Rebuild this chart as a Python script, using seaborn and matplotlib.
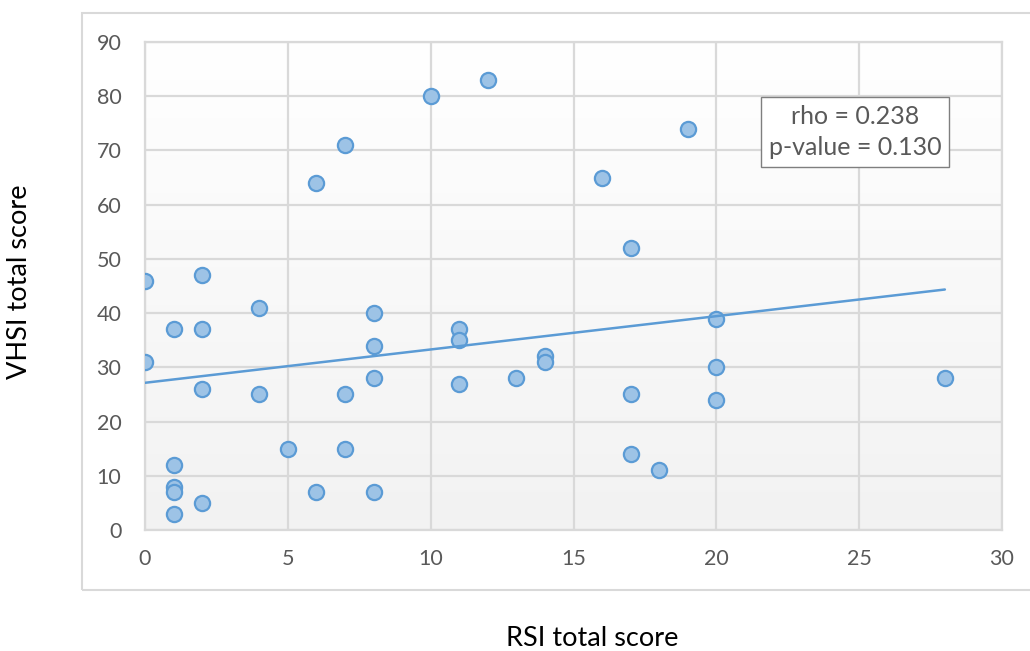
import numpy as np
import pandas as pd
import matplotlib
matplotlib.use("Agg")
import matplotlib.pyplot as plt
from matplotlib.patches import Rectangle
import seaborn as sns

# values
rsi = [0, 0, 1, 1, 1, 1, 1, 2, 2, 2, 2, 4, 4, 5, 6, 6, 7, 7, 7, 8, 8, 8, 8,
       10, 11, 11, 11, 12, 13, 14, 14, 16, 17, 17, 17, 18, 19, 20, 20, 20, 28]
vhsi = [46, 31, 37, 12, 8, 7, 3, 47, 37, 26, 5, 41, 25, 15, 64, 7, 71, 25, 15, 40, 34, 28, 7,
        80, 37, 35, 27, 83, 28, 32, 31, 65, 52, 25, 14, 11, 74, 39, 30, 24, 28]
x_ticks = [0, 5, 10, 15, 20, 25, 30]
y_ticks = [0, 10, 20, 30, 40, 50, 60, 70, 80, 90]
stats_text = "rho = 0.238\np-value = 0.130"

df = pd.DataFrame({"RSI total score": rsi, "VHSI total score": vhsi})

sns.set_style("white")
plt.rcParams["font.family"] = ["Lato", "DejaVu Sans"]

grid_col = "#D9D9D9"
blue = "#5B9BD5"

fig = plt.figure(figsize=(10.3, 6.51), dpi=100)
ax = fig.add_axes([145 / 1030, 1 - 530 / 651, 857 / 1030, 488 / 651])

# outer chart frame
fig.patches.append(Rectangle((82 / 1030, 1 - 590 / 651), 1.0, 577 / 651,
                             transform=fig.transFigure, fill=False,
                             edgecolor=grid_col, linewidth=1.5, zorder=0))

# soft vertical gradient of the plot area
grad = np.linspace(0, 1, 256).reshape(-1, 1)
ax.imshow(grad, extent=[0, 1, 0, 1], transform=ax.transAxes, aspect="auto",
          cmap=matplotlib.colors.LinearSegmentedColormap.from_list("bg", ["#F2F2F2", "#FFFFFF"]),
          origin="lower", zorder=0)

sns.regplot(data=df, x="RSI total score", y="VHSI total score", ax=ax, ci=None,
            truncate=True,
            scatter_kws=dict(s=120, facecolor="#9DC3E6", edgecolor=blue,
                             linewidths=1.6, alpha=1, zorder=3),
            line_kws=dict(color=blue, linewidth=1.8, zorder=4))

ax.set_xlim(0, 30)
ax.set_ylim(0, 90)
ax.set_xticks(x_ticks)
ax.set_yticks(y_ticks)
ax.grid(True, color=grid_col, linewidth=1.6, zorder=1)
ax.set_axisbelow(True)
for s in ax.spines.values():
    s.set_color(grid_col)
    s.set_linewidth(1.6)
ax.tick_params(axis="both", length=0, labelsize=15.5, labelcolor="#595959")
ax.tick_params(axis="y", pad=17)
ax.tick_params(axis="x", pad=14)
ax.set_xlabel("")
ax.set_ylabel("")

fig.text(592 / 1030, 1 - 638 / 651, "RSI total score", fontsize=19.5, color="black",
         ha="center", va="center")
fig.text(20 / 1030, 1 - 282 / 651, "VHSI total score", fontsize=19.5, color="black",
         ha="center", va="center", rotation=90)

ax.text(24.85, 73.4, stats_text, fontsize=18, color="#595959", ha="center", va="center",
        linespacing=1.45, zorder=5,
        bbox=dict(boxstyle="square,pad=0.3", facecolor="white", edgecolor="#7F7F7F", linewidth=1.0))

fig.savefig("out.png", dpi=100)
